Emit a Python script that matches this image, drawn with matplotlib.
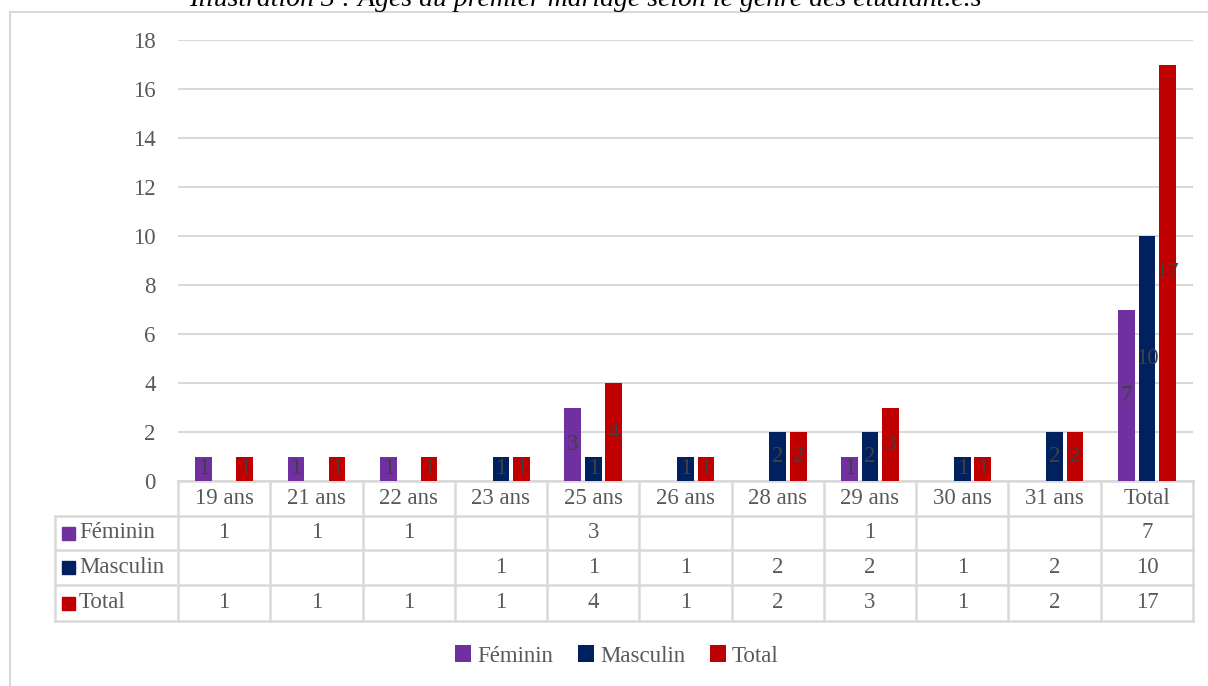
import numpy as np
import matplotlib.pyplot as plt
from matplotlib.lines import Line2D
from matplotlib.patches import Rectangle

categories = ["19 ans", "21 ans", "22 ans", "23 ans", "25 ans", "26 ans",
              "28 ans", "29 ans", "30 ans", "31 ans", "Total"]
feminin = [1, 1, 1, 0, 3, 0, 0, 1, 0, 0, 7]
masculin = [0, 0, 0, 1, 1, 1, 2, 2, 1, 2, 10]
total = [1, 1, 1, 1, 4, 1, 2, 3, 1, 2, 17]
series_names = ["Féminin", "Masculin", "Total"]
series_colors = ["#7030A0", "#002060", "#C00000"]
title = "Illustration 3 : Âges au premier mariage selon le genre des étudiant.e.s"

plt.rcParams['font.family'] = ['Liberation Serif', 'DejaVu Serif']
txt = "#595959"
grid = "#D9D9D9"
fs = 16.5

W, H = 1208, 686
fig = plt.figure(figsize=(W/100, H/100), dpi=100)
left, right, bottom, top = 178, 1193, 481, 40
ax = fig.add_axes([left/W, (H-bottom)/H, (right-left)/W, (bottom-top)/H])

# outer chart border
fig.add_artist(Rectangle((10/W, -0.01), 1.02, (H-12)/H + 0.01, transform=fig.transFigure,
                         fill=False, edgecolor=grid, lw=1.5))
fig.text(585/W, (H-6)/H, title, ha='center', va='baseline', fontsize=20,
         style='italic', color='black')

x = np.arange(len(categories))
bw = 0.18
step = 0.222
data = [feminin, masculin, total]
for i, (vals, col, name) in enumerate(zip(data, series_colors, series_names)):
    pos = x + (i - 1) * step
    v = np.array(vals, dtype=float)
    mask = v > 0
    ax.bar(pos[mask], v[mask], width=bw, color=col, label=name, zorder=3)
    for px, pv in zip(pos[mask], v[mask]):
        ax.text(px, pv/2, f"{int(pv)}", ha='center', va='center', fontsize=fs,
                color="#404040", zorder=4)

ax.set_xlim(-0.5, len(categories) - 0.5)
ax.set_ylim(0, 18)
ax.set_yticks(np.arange(0, 19, 2))
ax.yaxis.grid(True, color=grid, lw=1.5, zorder=0)
ax.set_xticks([])
for s in ax.spines.values():
    s.set_visible(False)
ax.tick_params(axis='y', length=0, pad=16, labelsize=fs, labelcolor=txt)

# data table below the axes
unit = (right - left) / len(categories)
axh = bottom - top
tr = ax.get_xaxis_transform()
row_px = [0, 35, 69, 104, 140]
ry = [-p/axh for p in row_px]
xl = -0.5 - (left - 55)/unit
xr = len(categories) - 0.5
lk = dict(color=grid, lw=1.8, transform=tr, clip_on=False)
ax.add_line(Line2D([-0.5, xr], [0, 0], **lk))
for yy in ry[1:]:
    ax.add_line(Line2D([xl, xr], [yy, yy], **lk))
for b in np.arange(-0.5, xr + 0.01, 1.0):
    ax.add_line(Line2D([b, b], [0, ry[-1]], **lk))
ax.add_line(Line2D([xl, xl], [ry[1], ry[-1]], **lk))

for j, c in enumerate(categories):
    ax.text(j, (ry[0] + ry[1])/2, c, ha='center', va='center', fontsize=fs,
            color=txt, transform=tr)
for r, (vals, col, name) in enumerate(zip(data, series_colors, series_names)):
    yc = (ry[r+1] + ry[r+2])/2
    sq = 13/unit
    ax.add_patch(Rectangle((xl + 7/unit, yc - 6.5/axh), sq, 13/axh, color=col,
                           transform=tr, clip_on=False))
    ax.text(xl + 24/unit, yc, name, ha='left', va='center', fontsize=fs,
            color=txt, transform=tr)
    for j, v in enumerate(vals):
        if v:
            ax.text(j, yc, str(v), ha='center', va='center', fontsize=fs,
                    color=txt, transform=tr)

leg = fig.legend(loc='center', bbox_to_anchor=(617/W, (H-656)/H), ncol=3,
                 frameon=False, fontsize=fs, handlelength=0.7, handleheight=0.7,
                 handletextpad=0.25, columnspacing=1.1, labelcolor=txt)

fig.savefig("out.png", dpi=100)
